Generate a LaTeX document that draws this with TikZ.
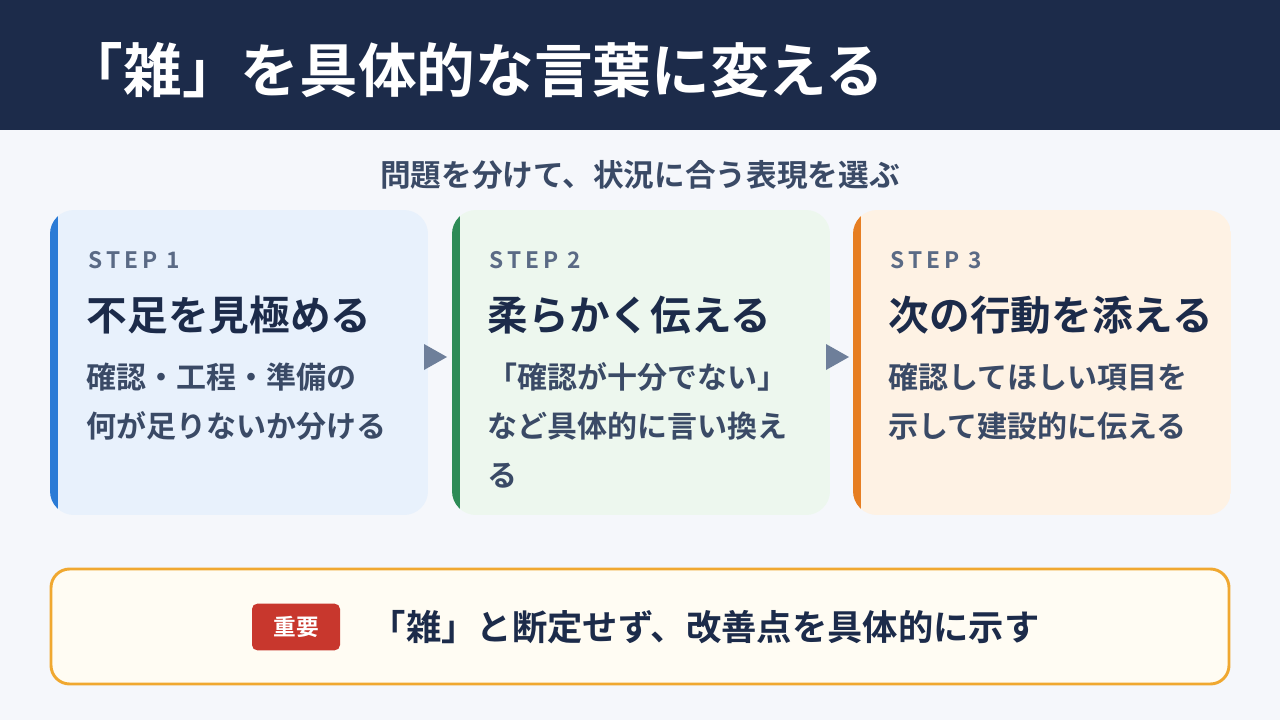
\documentclass[tikz,border=0pt]{standalone}
\usepackage{fontspec}
\setmainfont{Noto Sans CJK JP}[BoldFont={* Bold}]
\definecolor{navy}{HTML}{1C2B4A}
\definecolor{bg}{HTML}{F5F7FB}
\definecolor{sub}{HTML}{3A4A66}
\definecolor{stepc}{HTML}{5A6A85}
\definecolor{arr}{HTML}{6E7F9A}
\definecolor{c1}{HTML}{2B7BD6}\definecolor{f1}{HTML}{E8F1FC}
\definecolor{c2}{HTML}{2E8B57}\definecolor{f2}{HTML}{EDF7EE}
\definecolor{c3}{HTML}{E67E22}\definecolor{f3}{HTML}{FEF2E4}
\definecolor{ob}{HTML}{F0A830}\definecolor{of}{HTML}{FFFCF3}
\definecolor{red}{HTML}{C8372D}
\begin{document}
\begin{tikzpicture}[x=0.75pt,y=-0.75pt,
  steplbl/.style={anchor=west,text=stepc,font=\bfseries\fontsize{17}{20}\selectfont},
  head/.style={anchor=west,text=navy,font=\bfseries\fontsize{30.5}{34}\selectfont},
  body/.style={anchor=north west,text=sub,align=left,font=\bfseries\fontsize{22.5}{36.75}\selectfont},
  tri/.style={fill=arr}]
\useasboundingbox (0,0) rectangle (1280,720);
\fill[bg] (0,0) rectangle (1280,720);
\fill[navy] (0,0) rectangle (1280,130);
\node[anchor=west,text=white,font=\bfseries\fontsize{44}{50}\selectfont] (title) at (60,70) {「雑」を具体的な言葉に変える};
\node[text=sub,font=\bfseries\fontsize{23}{26}\selectfont] (subt) at (640,175) {問題を分けて、状況に合う表現を選ぶ};
\foreach \x/\c/\f [count=\i] in {50/c1/f1,452/c2/f2,853/c3/f3}{
  \begin{scope}
  \clip[rounded corners=18] (\x,210) rectangle ++(378,305);
  \fill[\f] (\x,210) rectangle ++(378,305);
  \fill[\c] (\x,210) rectangle ++(8,305);
  \end{scope}
}
\node[steplbl] (s1) at (84,260) {S\,T\,E\,P\,\ 1};
\node[steplbl] (s2) at (485,260) {S\,T\,E\,P\,\ 2};
\node[steplbl] (s3) at (886,260) {S\,T\,E\,P\,\ 3};
\node[head] (h1) at (82,315) {不足を見極める};
\node[head] (h2) at (483,315) {柔らかく伝える};
\node[head] (h3) at (884,315) {次の行動を添える};
\node[body] (b1) at (82,358) {確認・工程・準備の\\何が足りないか分ける};
\node[body] (b2) at (483,358) {「確認が十分でない」\\など具体的に言い換え\\る};
\node[body] (b3) at (884,358) {確認してほしい項目を\\示して建設的に伝える};
\fill[tri] (424,344) -- (447,357) -- (424,370) -- cycle;
\fill[tri] (826,344) -- (849,357) -- (826,370) -- cycle;
\draw[ob,line width=2.2pt,fill=of,rounded corners=14] (51,569) rectangle (1229,684);
\node[fill=red,text=white,rounded corners=4,minimum width=66pt,minimum height=35pt,font=\bfseries\fontsize{17}{20}\selectfont] (badge) at (296,627) {重要};
\node[anchor=west,text=navy,font=\bfseries\fontsize{26.5}{30}\selectfont] (imp) at (366,627) {「雑」と断定せず、改善点を具体的に示す};
\end{tikzpicture}
\end{document}
